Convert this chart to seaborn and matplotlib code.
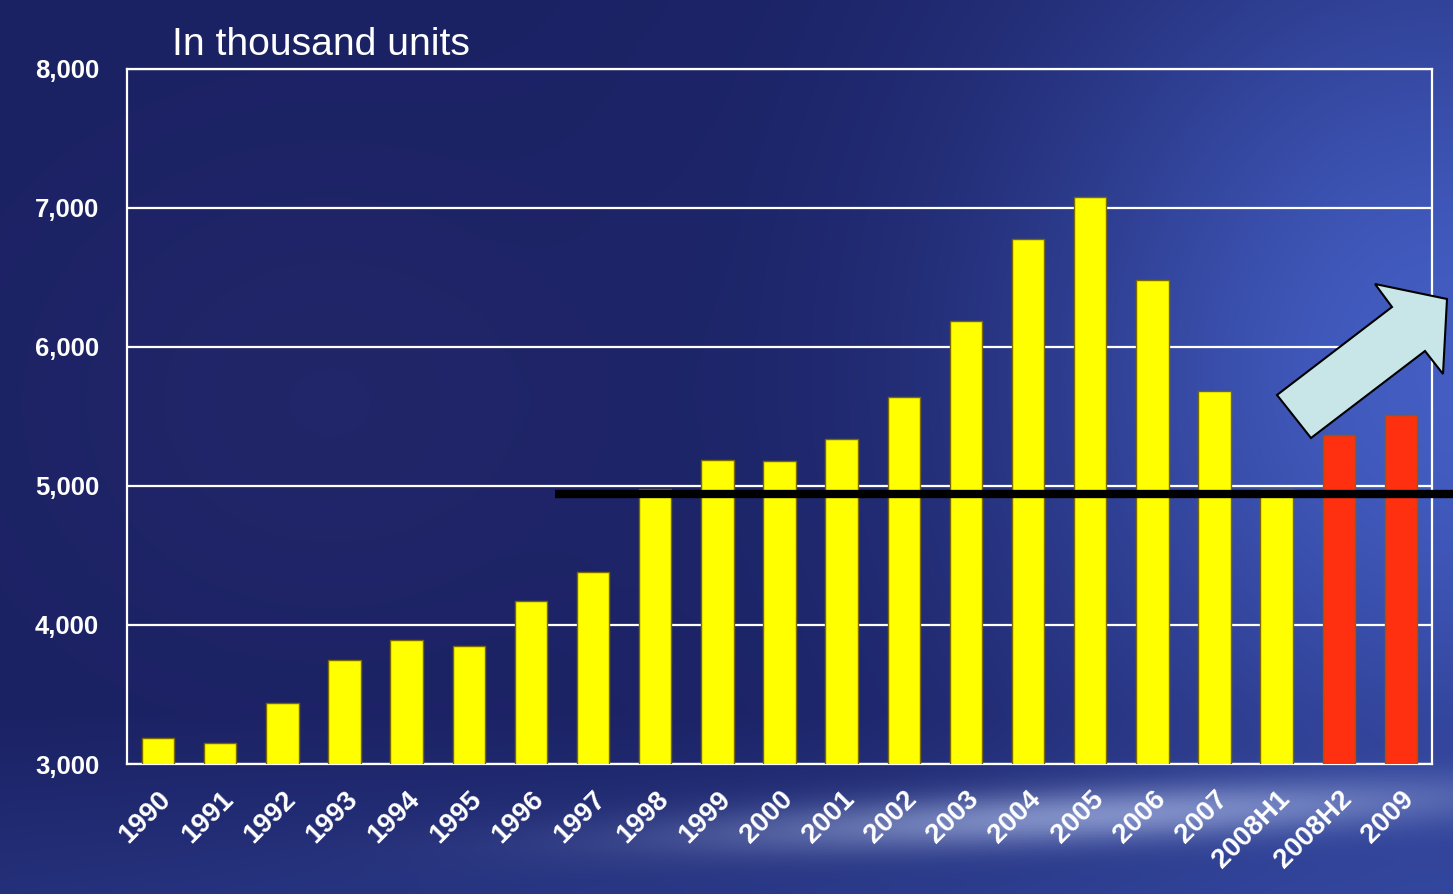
import numpy as np
import pandas as pd
import matplotlib
matplotlib.use("Agg")
import matplotlib.pyplot as plt
from matplotlib.patches import Polygon
import seaborn as sns

# ---- data ----
categories = ["1990", "1991", "1992", "1993", "1994", "1995", "1996", "1997",
              "1998", "1999", "2000", "2001", "2002", "2003", "2004", "2005",
              "2006", "2007", "2008H1", "2008H2", "2009"]
values = [3190, 3150, 3440, 3750, 3890, 3850, 4170, 4380,
          4980, 5190, 5180, 5340, 5640, 6190, 6780, 7080,
          6480, 5680, 4980, 5370, 5510]
forecast = ["2008H2", "2009"]
y_ticks = [3000, 4000, 5000, 6000, 7000, 8000]
y_tick_labels = ["3,000", "4,000", "5,000", "6,000", "7,000", "8,000"]
ref_level = 4940
title = "In thousand units"

sns.set_theme(style="white")
plt.rcParams["font.family"] = ["Liberation Sans", "DejaVu Sans"]

W, H = 1453, 894
fig = plt.figure(figsize=(W / 100, H / 100), dpi=100)

# ---- background gradient ----
bg = fig.add_axes([0, 0, 1, 1], zorder=-10)
ny, nx = 300, 480
yy, xx = np.mgrid[0:1:ny * 1j, 0:1:nx * 1j]
base = np.array([27, 34, 100]) / 255.0
img = np.ones((ny, nx, 3)) * base
# subtle purple haze at left
w0 = np.exp(-((xx - 0.22) ** 2 / 0.04 + (yy - 0.45) ** 2 / 0.08)) * 0.25
c0 = np.array([50, 50, 120]) / 255.0
img = img * (1 - w0[..., None]) + c0 * w0[..., None]
# lighter blue glow on the right
w1 = np.exp(-((xx - 1.0) ** 2 / 0.09 + (yy - 0.42) ** 2 / 0.30)) * 0.9
c1 = np.array([72, 100, 205]) / 255.0
img = img * (1 - w1[..., None]) + c1 * w1[..., None]
# bottom brightening
w2 = np.clip((yy - 0.80) / 0.2, 0, 1) * 0.55 * (0.5 + 0.5 * xx)
c2 = np.array([60, 85, 180]) / 255.0
img = img * (1 - w2[..., None]) + c2 * w2[..., None]
# bright swoosh
curve = 0.95 - 0.08 * (xx - 0.3)
w3 = np.exp(-((yy - curve) ** 2) / 0.0009) * np.exp(-((xx - 0.75) ** 2) / 0.07) * 0.6
c3 = np.array([185, 200, 240]) / 255.0
img = img * (1 - w3[..., None]) + c3 * w3[..., None]
bg.imshow(img, aspect="auto", extent=[0, 1, 0, 1], origin="upper")
bg.set_axis_off()

# ---- main axes ----
left, right, top, bottom = 127, 1432, 69, 764
ax = fig.add_axes([left / W, 1 - bottom / H, (right - left) / W, (bottom - top) / H])
ax.set_facecolor("none")

df = pd.DataFrame({"cat": categories, "val": values})
palette = {c: ("#ff3010" if c in forecast else "#ffff00") for c in categories}
sns.barplot(data=df, x="cat", y="val", hue="cat", palette=palette, legend=False,
            width=0.52, saturation=1, edgecolor="#7a6a00", linewidth=1.0, ax=ax, zorder=3)

ax.set_ylim(3000, 8000)
ax.set_xlim(-0.5, len(categories) - 0.5)
ax.set_yticks(y_ticks)
ax.set_yticklabels(y_tick_labels, fontsize=18.5, fontweight="bold", color="white")
ax.yaxis.grid(True, color="white", linewidth=1.6, zorder=1)
ax.set_axisbelow(True)
ax.set_xlabel("")
ax.set_ylabel("")

ax.set_xticks(range(len(categories)))
ax.set_xticklabels(categories, rotation=45, ha="right", va="top",
                   rotation_mode="anchor", fontsize=20, fontweight="bold", color="white")
ax.tick_params(axis="x", which="major", length=0, pad=16)
ax.set_xticks([3.5, 7.5, 11.5, 15.5, 19.5], minor=True)
ax.tick_params(axis="x", which="minor", length=10, width=1.5, color="white", direction="out")
ax.tick_params(axis="y", which="major", length=10, width=1.5, color="white", direction="out", pad=10)

for s in ax.spines.values():
    s.set_color("white")
    s.set_linewidth(1.6)
    s.set_visible(True)

# reference line
ax.axhline(ref_level, xmin=(555 - left) / (right - left), xmax=(W - left) / (right - left),
           color="black", linewidth=6, clip_on=False, zorder=5, solid_capstyle="butt")

# title
fig.text(172 / W, 1 - 45 / H, title, fontsize=28.2, color="white", va="center", ha="left")

# arrow (decorative)
pts = [(1277, 395), (1392, 307), (1375, 284), (1447, 299),
       (1443, 374), (1425, 351), (1311, 438)]
arrow = Polygon([(x / W, 1 - y / H) for x, y in pts], closed=True,
                transform=fig.transFigure, facecolor="#c8e6e8", edgecolor="black",
                linewidth=1.5, zorder=10)
fig.patches.append(arrow)

fig.savefig("out.png", dpi=100)
